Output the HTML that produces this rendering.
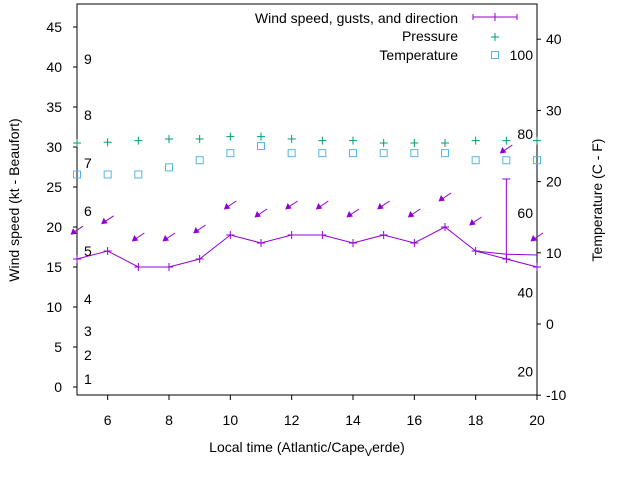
<!DOCTYPE html>
<html><head><meta charset="utf-8"><style>body{margin:0;background:#fff}svg{font-family:"Liberation Sans",sans-serif;font-size:14px}</style></head>
<body>
<svg id="chart" width="640" height="480" viewBox="0 0 640 480">
<g id="g"></g>
</svg>
<script>
const hours=[5,6,7,8,9,10,11,12,13,14,15,16,17,18,19,20];
const windSpeed=[16,17,15,15,16,19,18,19,19,18,19,18,20,17,16,15];
const gustHours=[18,19,20];
const gustLine=[17,16.6,16.5];
const gustBarHour=19, gustBarLow=16, gustBarHigh=26;
const arrowLevel=[19.6,20.9,18.75,18.75,19.75,22.75,21.75,22.75,22.75,21.75,22.75,21.75,23.75,20.75,29.75,18.75];
const pressure=[30.5,30.6,30.8,31,31,31.3,31.3,31,30.8,30.8,30.5,30.5,30.5,30.8,30.8,30.8];
const temperature=[21,21,21,22,23,24,25,24,24,24,24,24,24,23,23,23];
const xTicks=[6,8,10,12,14,16,18,20];
const yTicks=[0,5,10,15,20,25,30,35,40,45];
const y2Ticks=[-10,0,10,20,30,40];
const beaufort=[[1,1],[2,4],[3,7],[4,11],[5,17],[6,22],[7,28],[8,34],[9,41]];
const fahr=[20,40,60,80,100];

const L=77,R=537,T=4,B=395;
const X=h=>L+(h-5)*(R-L)/15;
const Y=v=>387-8*v;
const Y2=c=>324-7.12*c;
const ns="http://www.w3.org/2000/svg";
const g=document.getElementById('g');
function el(t,a,txt){const e=document.createElementNS(ns,t);for(const k in a)e.setAttribute(k,a[k]);if(txt!==undefined)e.textContent=txt;g.appendChild(e);return e;}
let e;
e=el('rect',{x:L,y:T,width:R-L,height:B-T,fill:'none',stroke:'#000','stroke-width':1});

xTicks.forEach(t=>{e=el('line',{x1:X(t),x2:X(t),y1:B,y2:B+5,stroke:'#000'});
e=el('text',{x:X(t),y:425,'text-anchor':'middle'},t);});
yTicks.forEach(t=>{e=el('line',{x1:L-4,x2:L,y1:Y(t),y2:Y(t),stroke:'#000'});
e=el('text',{x:62,y:Y(t)+5,'text-anchor':'end'},t);});
y2Ticks.forEach(t=>{e=el('line',{x1:R,x2:R+4,y1:Y2(t),y2:Y2(t),stroke:'#000'});
e=el('text',{x:546,y:Y2(t)+5},t);});
beaufort.forEach(b=>{e=el('text',{x:84,y:Y(b[1])+5},b[0]);});
fahr.forEach(f=>{e=el('text',{x:533,y:Y2((f-32)/1.8)+5,'text-anchor':'end'},f);});
e=el('polyline',{points:hours.map((h,i)=>X(h)+','+Y(windSpeed[i])).join(' '),fill:'none',stroke:'#9400d3','stroke-width':1});

hours.forEach((h,i)=>{e=el('path',{d:`M${X(h)-4},${Y(windSpeed[i])}h8M${X(h)},${Y(windSpeed[i])-4}v8`,stroke:'#9400d3'});});
e=el('polyline',{points:gustHours.map((h,i)=>X(h)+','+Y(gustLine[i])).join(' '),fill:'none',stroke:'#9400d3'});

e=el('path',{d:`M${X(gustBarHour)},${Y(gustBarLow)}V${Y(gustBarHigh)}M${X(gustBarHour)-4},${Y(gustBarHigh)}h8`,stroke:'#9400d3'});

hours.forEach((h,i)=>{const cx=X(h),cy=Y(arrowLevel[i]);
e=el('line',{x1:cx+6,y1:cy-4,x2:cx-3,y2:cy+2,stroke:'#9400d3'});
e=el('polygon',{points:`${cx-6.5},${cy+4.5} ${cx},${cy+3.5} ${cx-4},${cy-2}`,fill:'#9400d3'});});
hours.forEach((h,i)=>{const cx=X(h),cy=Y(pressure[i]);e=el('path',{d:`M${cx-4},${cy}h8M${cx},${cy-4}v8`,stroke:'#009e73'});});
hours.forEach((h,i)=>{const cx=X(h),cy=Y2(temperature[i]);e=el('rect',{x:cx-3.5,y:cy-3.5,width:7,height:7,fill:'none',stroke:'#56b4e9'});});
e=el('text',{x:458,y:23,'text-anchor':'end'},'Wind speed, gusts, and direction');
e=el('path',{d:'M473,17h44M473,14v6M517,14v6M495,13v8',stroke:'#9400d3'});
e=el('text',{x:458,y:41,'text-anchor':'end'},'Pressure');
e=el('path',{d:'M491,37h8M495,33v8',stroke:'#009e73'});
e=el('text',{x:458,y:60,'text-anchor':'end'},'Temperature');
e=el('rect',{x:491.5,y:51.5,width:7,height:7,fill:'none',stroke:'#56b4e9'});
e=el('text',{x:307,y:452,'text-anchor':'middle'});
e.innerHTML='Local time (Atlantic/Cape<tspan dy="4" font-size="11">V</tspan><tspan dy="-4">erde)</tspan>';
e=el('text',{x:0,y:0,'text-anchor':'middle',transform:'translate(19,200) rotate(-90)'},'Wind speed (kt - Beaufort)');
e=el('text',{x:0,y:0,'text-anchor':'middle',transform:'translate(602,200) rotate(-90)'},'Temperature (C - F)');
</script>
</body></html>
